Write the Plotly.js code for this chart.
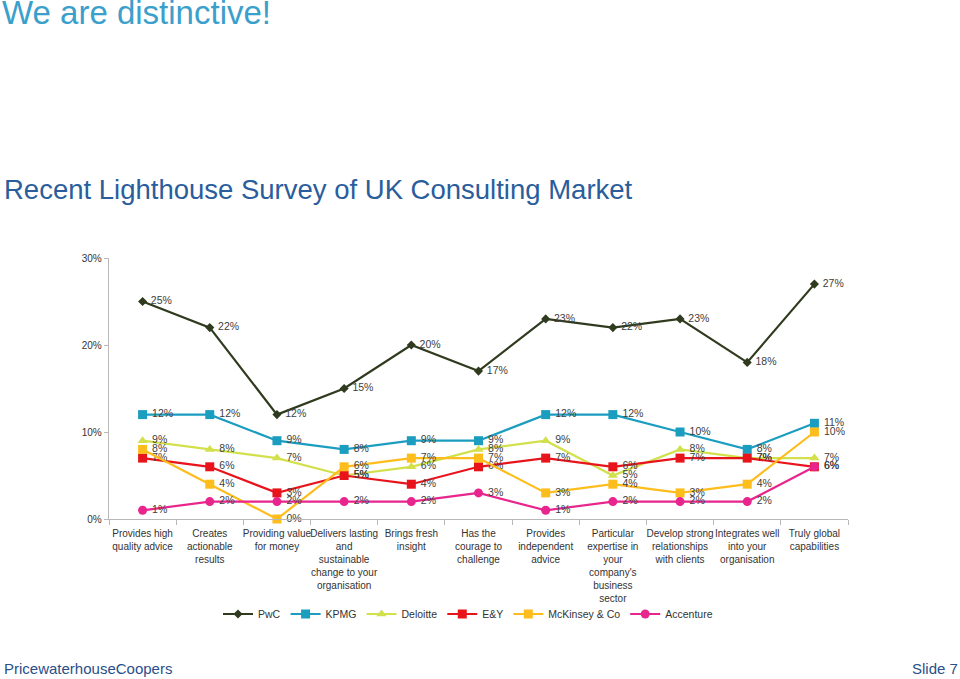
<!DOCTYPE html>
<html>
<head>
<meta charset="utf-8">
<script src="https://cdn.plot.ly/plotly-3.0.1.min.js"></script>
<style>html,body{margin:0;padding:0;background:#fff;}#chart{width:960px;height:679px;}</style>
</head>
<body>
<div id="chart"></div>
<script>
const categories = [
  "Provides high<br>quality advice",
  "Creates<br>actionable<br>results",
  "Providing value<br>for money",
  "Delivers lasting<br>and<br>sustainable<br>change to your<br>organisation",
  "Brings fresh<br>insight",
  "Has the<br>courage to<br>challenge",
  "Provides<br>independent<br>advice",
  "Particular<br>expertise in<br>your<br>company's<br>business<br>sector",
  "Develop strong<br>relationships<br>with clients",
  "Integrates well<br>into your<br>organisation",
  "Truly global<br>capabilities"
];
const pwc       = [25, 22, 12, 15, 20, 17, 23, 22, 23, 18, 27];
const kpmg      = [12, 12, 9, 8, 9, 9, 12, 12, 10, 8, 11];
const deloitte  = [9, 8, 7, 5, 6, 8, 9, 5, 8, 7, 7];
const ey        = [7, 6, 3, 5, 4, 6, 7, 6, 7, 7, 6];
const mckinsey  = [8, 4, 0, 6, 7, 7, 3, 4, 3, 4, 10];
const accenture = [1, 2, 2, 2, 2, 3, 1, 2, 2, 2, 6];
const yTicks = [0, 10, 20, 30];

const series = [
  {name: "PwC", y: pwc, color: "#2f3a1f", symbol: "diamond", size: 7},
  {name: "KPMG", y: kpmg, color: "#1b9dc0", symbol: "square", size: 9},
  {name: "Deloitte", y: deloitte, color: "#d2e04c", symbol: "triangle-up", size: 9},
  {name: "E&Y", y: ey, color: "#e8141c", symbol: "square", size: 9},
  {name: "McKinsey & Co", y: mckinsey, color: "#fdbd1c", symbol: "square", size: 9},
  {name: "Accenture", y: accenture, color: "#e8258d", symbol: "circle", size: 9}
];

const traces = series.map(s => ({
  type: "scatter",
  mode: "lines+markers+text",
  name: s.name,
  x: categories,
  y: s.y,
  line: {color: s.color, width: 2.2},
  marker: {color: s.color, symbol: s.symbol, size: s.size},
  text: s.y.map(v => "\u00a0" + v + "%"),
  textposition: "middle right",
  textfont: {family: "Liberation Sans, Arial, sans-serif", size: 10.5, color: "#404040"},
  cliponaxis: false,
  hoverinfo: "skip"
}));

const L = 109, R = 848, T = 258, B = 519;
const px = x => (x - L) / (R - L);
const py = y => (B - y) / (B - T);

const layout = {
  width: 960, height: 679,
  margin: {l: L, r: 960 - R, t: T, b: 679 - B},
  paper_bgcolor: "#fff", plot_bgcolor: "#fff",
  font: {family: "Liberation Sans, Arial, sans-serif", color: "#333"},
  showlegend: true,
  legend: {
    orientation: "h", x: px(468), xanchor: "center", y: py(614), yanchor: "middle",
    bgcolor: "rgba(0,0,0,0)",
    font: {size: 10.5, color: "#333"}, itemwidth: 30, tracegroupgap: 0
  },
  xaxis: {
    type: "category",
    showgrid: false, zeroline: false,
    showline: true, linecolor: "#b8b8b8", linewidth: 1.3,
    ticks: "outside", tickson: "boundaries", ticklen: 5, tickcolor: "#b8b8b8",
    ticklabelstandoff: 5,
    tickfont: {size: 10, color: "#333"},
    range: [-0.5, 10.5], tickangle: 0
  },
  yaxis: {
    range: [0, 30], tickvals: yTicks, ticktext: yTicks.map(v => v + "%"),
    showgrid: false, zeroline: false,
    showline: true, linecolor: "#b8b8b8", linewidth: 1.3,
    ticks: "outside", ticklen: 4, tickcolor: "#b8b8b8",
    tickfont: {size: 10, color: "#333"}
  },
  title: {
    text: "We are distinctive!",
    x: 2 / 960, xanchor: "left", xref: "container",
    y: 1 - 12 / 679, yanchor: "middle", yref: "container",
    font: {family: "Liberation Sans, Arial, sans-serif", size: 33, color: "#3a9fcb"}
  },
  annotations: [
    {text: "Recent Lighthouse Survey of UK Consulting Market", xref: "paper", yref: "paper",
     x: px(2), y: py(189), xanchor: "left", yanchor: "middle", showarrow: false,
     font: {family: "Liberation Sans, Arial, sans-serif", size: 27.5, color: "#2a5d9c"}},
    {text: "PricewaterhouseCoopers", xref: "paper", yref: "paper",
     x: px(2), y: py(668), xanchor: "left", yanchor: "middle", showarrow: false,
     font: {family: "Liberation Sans, Arial, sans-serif", size: 15, color: "#2a4f8a"}},
    {text: "Slide 7", xref: "paper", yref: "paper",
     x: px(960), y: py(668), xanchor: "right", yanchor: "middle", showarrow: false,
     font: {family: "Liberation Sans, Arial, sans-serif", size: 15, color: "#2a4f8a"}}
  ]
};

Plotly.newPlot("chart", traces, layout, {staticPlot: true, displayModeBar: false});
</script>
</body>
</html>
